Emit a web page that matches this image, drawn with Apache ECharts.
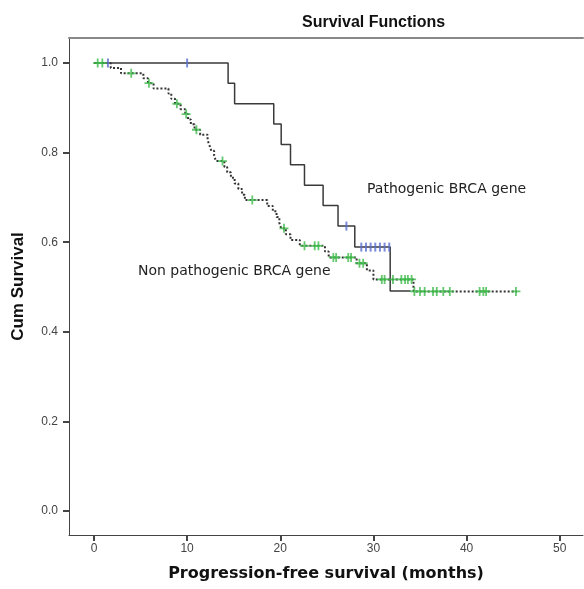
<!DOCTYPE html>
<html><head><meta charset="utf-8">
<script src="https://cdn.jsdelivr.net/npm/echarts@6/dist/echarts.min.js"></script>
<style>html,body{margin:0;padding:0;background:#fff}#c{width:584px;height:589px}</style>
</head><body><div id="c"></div>
<script>
// Pathogenic BRCA gene: event times and survival after each event
var pathTimes = [0, 14.4, 15.1, 19.3, 20.1, 21.1, 22.6, 24.6, 26.2, 28.0, 31.8, 34.0];
var pathSurv  = [1.0, 0.955, 0.909, 0.864, 0.818, 0.773, 0.727, 0.682, 0.636, 0.589, 0.491, 0.491];
var pathCensor = [1.5, 10.0, 27.1, 28.7, 29.2, 29.7, 30.2, 30.7, 31.2, 31.7];

// Non pathogenic BRCA gene
var nonTimes = [0, 1.8, 2.9, 5.3, 5.8, 6.4, 8.0, 8.3, 8.7, 9.3, 9.8, 10.1, 10.4, 10.8, 11.4, 12.2, 12.4, 12.6, 12.9, 13.1, 14.0, 14.3, 14.7, 15.1, 15.5, 15.9, 16.2, 18.6, 19.2, 19.6, 19.9, 20.1, 20.6, 21.1, 22.1, 24.8, 25.2, 28.2, 29.3, 30.0, 34.3, 45.4];
var nonSurv  = [1.0, 0.989, 0.977, 0.966, 0.955, 0.943, 0.932, 0.920, 0.909, 0.897, 0.886, 0.874, 0.863, 0.851, 0.840, 0.828, 0.816, 0.804, 0.793, 0.781, 0.768, 0.756, 0.744, 0.731, 0.719, 0.706, 0.694, 0.681, 0.669, 0.656, 0.643, 0.631, 0.618, 0.605, 0.592, 0.579, 0.566, 0.553, 0.537, 0.517, 0.490, 0.490];
var nonCensor = [0.4, 0.9, 4.0, 5.9, 8.9, 9.9, 11.0, 13.8, 17.0, 20.4, 22.6, 23.7, 24.1, 25.7, 26.0, 27.3, 27.6, 28.5, 28.9, 30.9, 31.2, 32.1, 33.0, 33.4, 33.7, 34.1, 34.4, 35.0, 35.5, 36.4, 36.8, 37.5, 38.2, 41.4, 41.8, 42.1, 45.3];

var xTicks = [0, 10, 20, 30, 40, 50];
var yTicks = [0, 0.2, 0.4, 0.6, 0.8, 1.0];

function pairs(t, s) { return t.map(function (v, i) { return [v, s[i]]; }); }
function survAt(t, s, x) {
  var v = s[0];
  for (var i = 0; i < t.length; i++) { if (t[i] <= x) v = s[i]; }
  return v;
}
function censorPts(c, t, s) { return c.map(function (x) { return [x, survAt(t, s, x)]; }); }

var plus = 'path://M4,0h2v4h4v2h-4v4h-2v-4h-4v-2h4z';
var bar = 'path://M0,0h2v10h-2z';

var chart = echarts.init(document.getElementById('c'), null, {renderer: 'canvas'});
chart.setOption({
  animation: false,
  backgroundColor: '#fff',
  title: {
    text: 'Survival Functions', left: 297, top: 10,
    textStyle: {fontFamily: 'Liberation Sans', fontWeight: 'bold', fontSize: 16, color: '#111'}
  },
  grid: {left: 69, top: 38, right: 1, bottom: 54, containLabel: false},
  xAxis: [{
    type: 'value', min: -2.68, max: 52.5,
    name: 'Progression-free survival (months)', nameLocation: 'middle', nameGap: 31,
    nameTextStyle: {fontFamily: 'DejaVu Sans', fontWeight: 'bold', fontSize: 16, color: '#111'},
    axisLine: {show: true, onZero: false, lineStyle: {color: '#444', width: 1}},
    axisTick: {show: true, length: 6, lineStyle: {color: '#444', width: 2}, customValues: xTicks},
    axisLabel: {customValues: xTicks, fontFamily: 'Liberation Sans', fontSize: 12, color: '#444', margin: 8,
      formatter: function (v) { return String(v); }},
    splitLine: {show: false}
  }, {
    type: 'value', position: 'top', min: -2.68, max: 52.5,
    axisLine: {show: true, onZero: false, lineStyle: {color: '#888', width: 2}},
    axisTick: {show: false}, axisLabel: {show: false}, splitLine: {show: false}
  }],
  yAxis: {
    type: 'value', min: -0.0536, max: 1.0558,
    name: 'Cum Survival', nameLocation: 'middle', nameGap: 42, nameRotate: 90,
    nameTextStyle: {fontFamily: 'Liberation Sans', fontWeight: 'bold', fontSize: 17, color: '#111'},
    axisLine: {show: true, onZero: false, lineStyle: {color: '#444', width: 1}},
    axisTick: {show: true, length: 6, lineStyle: {color: '#444', width: 2}, customValues: yTicks},
    axisLabel: {customValues: yTicks, fontFamily: 'Liberation Sans', fontSize: 12, color: '#444', margin: 11,
      formatter: function (v) { return v.toFixed(1); }},
    splitLine: {show: false}
  },
  series: [
    {type: 'line', step: 'end', data: pairs(pathTimes, pathSurv), showSymbol: false,
     lineStyle: {color: '#3a3a3a', width: 1.5}, z: 3},
    {type: 'line', step: 'end', data: pairs(nonTimes, nonSurv), showSymbol: false,
     lineStyle: {color: '#333', width: 2, type: [2, 2]}, z: 2},
    {type: 'scatter', data: censorPts(nonCensor, nonTimes, nonSurv), symbol: plus, symbolSize: 9,
     itemStyle: {color: '#3dbb4a'}, z: 4},
    {type: 'scatter', data: censorPts(pathCensor, pathTimes, pathSurv), symbol: bar, symbolSize: [2, 9],
     itemStyle: {color: '#5b6fd0'}, z: 5}
  ],
  graphic: [
    {type: 'text', left: 367, top: 182, style: {text: 'Pathogenic BRCA gene', font: '14px "DejaVu Sans"', fill: '#222'}},
    {type: 'text', left: 138, top: 264, style: {text: 'Non pathogenic BRCA gene', font: '14px "DejaVu Sans"', fill: '#222'}}
  ]
});
</script></body></html>
